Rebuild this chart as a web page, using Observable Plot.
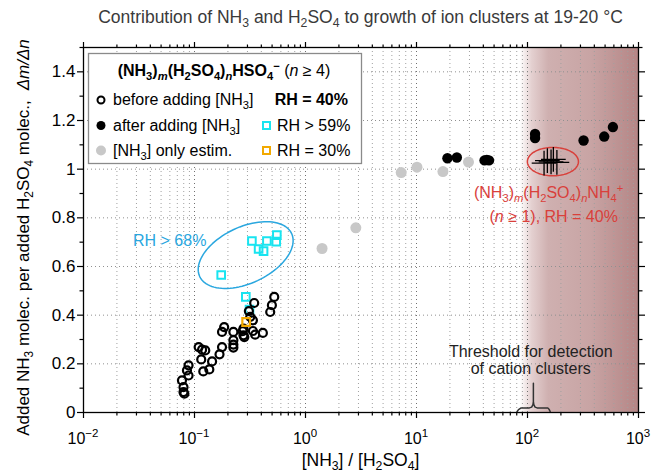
<!DOCTYPE html>
<html>
<head>
<meta charset="utf-8">
<script src="https://cdn.jsdelivr.net/npm/d3@7"></script>
<script src="https://cdn.jsdelivr.net/npm/@observablehq/plot@0.6"></script>
<style>
  html,body{margin:0;padding:0;background:#fff;}
  #chart svg{display:block;font-family:"Liberation Sans",Arial,Helvetica,sans-serif;}
  #chart text{white-space:pre;}
</style>
</head>
<body>
<div id="chart"></div>
<script>
// ---------------- data ----------------
// before adding NH3 (open black circles), RH = 40%
const beforeX = [0.523,0.498,0.481,0.345,0.309,0.336,0.318,0.276,0.276,0.336,0.352,0.413,
                 0.224,0.224,0.224,0.224,0.185,0.177,0.177,0.168,0.144,0.136,0.120,0.115,
                 0.109,0.117,0.125,0.0884,0.0855,0.0884,0.0771,0.0796,0.0796,0.0811,0.281,0.272];
const beforeY = [0.475,0.441,0.413,0.450,0.417,0.379,0.393,0.345,0.317,0.335,0.320,0.327,
                 0.331,0.297,0.279,0.267,0.351,0.331,0.269,0.239,0.210,0.177,0.169,0.218,
                 0.269,0.258,0.255,0.194,0.173,0.152,0.132,0.104,0.084,0.077,0.310,0.334];
// after adding NH3 (filled black)
const afterX = [19.0,23.1,41,43,45,117,117,320,491,588];
const afterY = [1.045,1.048,1.036,1.038,1.036,1.145,1.128,1.118,1.134,1.173];
// NH3 only estimated (grey)
const estimX = [1.41,2.84,7.28,10.1,17.3,29.4];
const estimY = [0.674,0.759,0.986,1.008,0.990,1.029];
// RH > 59% (cyan squares)
const rh59X = [0.174,0.329,0.378,0.419,0.449,0.552,0.545,0.290,0.313];
const rh59Y = [0.565,0.705,0.672,0.663,0.705,0.729,0.702,0.475,0.423];
// RH = 30% (orange square)
const rh30X = [0.292];
const rh30Y = [0.372];
// cation clusters (NH3)m(H2SO4)nNH4+ (plus marks)
const cationX = [141,151,163,171,184];
const cationY = [1.025,1.035,1.030,1.040,1.028];

// ticks
const xMajor = [0.01,0.1,1,10,100,1000];
const xExponents = ["\u22122","\u22121","0","1","2","3"];
const xMinorMult = [2,3,4,5,6,7,8,9];
const yMajor = [0,0.2,0.4,0.6,0.8,1,1.2,1.4];
const yLabels = ["0","0.2","0.4","0.6","0.8","1","1.2","1.4"];
const yMinor = [0.1,0.3,0.5,0.7,0.9,1.1,1.3,1.5];

// shaded region (cation detection)
const shadeFrom = 86, shadeTo = 1000;

// annotation shapes in data units (log10 x, y)
const cyanEllipse = {cx:-0.539, cy:0.647, ux:0.414, uy:0.0883, vx:-0.107, vy:0.105};
const redEllipse  = {cx:2.229,  cy:1.031, ux:0.23,  uy:0,      vx:0,      vy:0.0585};
const braceX = [80.7,83,87,104,109,112,113,113,113,114,117,122,153,157,160];
const braceY = [0.004,0.012,0.018,0.019,0.022,0.032,0.045,0.12,0.045,0.032,0.022,0.019,0.018,0.012,0.004];

// annotation text anchors (data units)
const redLabel1 = [156.6, 0.880], redLabel2 = [174, 0.782];
const cyanLabel = [0.0604, 0.683];
const threshLabel1 = [108, 0.225], threshLabel2 = [108, 0.155];

// ---------------- build ----------------
const xMinor = [];
xMajor.slice(0,-1).forEach(d => xMinorMult.forEach(m => xMinor.push(+(d*m).toPrecision(3))));
const pts = (X, Y) => X.map((x, i) => ({x, y: Y[i]}));
function ellipse(e) {
  return d3.range(0, 97).map(i => {
    const t = i / 96 * 2 * Math.PI;
    return {x: Math.pow(10, e.cx + e.ux*Math.cos(t) + e.vx*Math.sin(t)),
            y: e.cy + e.uy*Math.cos(t) + e.vy*Math.sin(t)};
  });
}
const noText = () => "";

const plot = Plot.plot({
  width: 653, height: 474,
  marginLeft: 83, marginRight: 15, marginTop: 47, marginBottom: 62,
  style: {fontFamily: '"Liberation Sans", Arial, sans-serif', fontSize: "16px", color: "#000", background: "#fff"},
  x: {type: "log", domain: [0.01, 1000]},
  y: {domain: [0, 1.5]},
  marks: [
    Plot.rect([0], {x1: () => shadeFrom, x2: () => shadeTo, y1: () => 0, y2: () => 1.5, fill: "url(#shadeGrad)"}),
    Plot.ruleX(xMinor, {stroke: "#a0a0a0", strokeDasharray: "1,3"}),
    Plot.ruleX(xMajor.slice(1, -1), {stroke: "#707070", strokeDasharray: "1,3"}),
    Plot.ruleY(yMajor.slice(1), {stroke: "#909090", strokeDasharray: "1,3"}),
    Plot.line(ellipse(cyanEllipse), {x: "x", y: "y", stroke: "#2aa7df", strokeWidth: 1.5}),
    Plot.line(ellipse(redEllipse), {x: "x", y: "y", stroke: "#d9403b", strokeWidth: 1.5}),
    Plot.dot(pts(estimX, estimY), {x: "x", y: "y", r: 5.5, fill: "#c8c8c8"}),
    Plot.dot(pts(rh59X, rh59Y), {x: "x", y: "y", symbol: "square", r: 4.3, stroke: "#18e4f0", strokeWidth: 2, fill: "none"}),
    Plot.dot(pts(beforeX, beforeY), {x: "x", y: "y", r: 4, stroke: "#000", strokeWidth: 2.2, fill: "none"}),
    Plot.dot(pts(rh30X, rh30Y), {x: "x", y: "y", symbol: "square", r: 4.3, stroke: "#f2a900", strokeWidth: 2.2, fill: "none"}),
    Plot.dot(pts(afterX, afterY), {x: "x", y: "y", r: 5.2, fill: "#000"}),
    Plot.dot(pts(cationX, cationY), {x: "x", y: "y", symbol: "plus", r: 8, stroke: "#000", strokeWidth: 1.3}),
    Plot.line(pts(braceX, braceY), {x: "x", y: "y", stroke: "#333", strokeWidth: 1.5}),
    Plot.frame({stroke: "#000", strokeWidth: 1.3}),
    Plot.axisX(xMajor, {anchor: "bottom", tickSize: 6, tickFormat: noText, label: null, strokeWidth: 1.2}),
    Plot.axisX(xMinor, {anchor: "bottom", tickSize: 3.5, tickFormat: noText, label: null, strokeWidth: 1.2}),
    Plot.axisX(xMajor, {anchor: "top", tickSize: 6, tickFormat: noText, label: null, strokeWidth: 1.2}),
    Plot.axisX(xMinor, {anchor: "top", tickSize: 3.5, tickFormat: noText, label: null, strokeWidth: 1.2}),
    Plot.axisY(yMajor, {anchor: "left", tickSize: 6, tickPadding: 2, tickFormat: d => yLabels[yMajor.indexOf(d)], label: null, fontSize: 17, strokeWidth: 1.2}),
    Plot.axisY(yMinor, {anchor: "left", tickSize: 3.5, tickFormat: noText, label: null, strokeWidth: 1.2}),
    Plot.axisY(yMajor, {anchor: "right", tickSize: 6, tickFormat: noText, label: null, strokeWidth: 1.2}),
    Plot.axisY(yMinor, {anchor: "right", tickSize: 3.5, tickFormat: noText, label: null, strokeWidth: 1.2})
  ]
});

document.getElementById("chart").appendChild(plot);
const svg = d3.select(plot);
const xs = plot.scale("x"), ys = plot.scale("y");

// gradient for the shaded region
const grad = svg.insert("defs", ":first-child").append("linearGradient")
  .attr("id", "shadeGrad").attr("x1", 0).attr("x2", 1).attr("y1", 0).attr("y2", 0);
[[0, "#ffffff"], [0.1, "#e4d0d0"], [0.24, "#cfb0b0"], [0.6, "#c8a4a4"], [1, "#b58686"]]
  .forEach(([o, c]) => grad.append("stop").attr("offset", o).attr("stop-color", c));

// rich text helper (sub/superscripts, italics, bold)
function rich(parent, x, y, segs, o = {}) {
  const size = o.size || 16;
  const t = parent.append("text").attr("x", x).attr("y", y)
    .attr("text-anchor", o.anchor || "start").attr("font-size", size)
    .attr("fill", o.fill || "#000");
  if (o.weight) t.attr("font-weight", o.weight);
  if (o.transform) t.attr("transform", o.transform);
  let cur = 0;
  segs.forEach(s => {
    const seg = typeof s === "string" ? {t: s} : s;
    const shift = seg.sub ? size * 0.25 : seg.sup ? -size * 0.38 : 0;
    const ts = t.append("tspan").text(seg.t);
    if (shift !== cur) ts.attr("dy", shift - cur);
    cur = shift;
    if (seg.sub || seg.sup) ts.attr("font-size", size * 0.7);
    if (seg.i) ts.attr("font-style", "italic");
    if (seg.b !== undefined) ts.attr("font-weight", seg.b ? "bold" : "normal");
    if (seg.dx) ts.attr("dx", seg.dx);
  });
  return t;
}
const sub = (t, i) => ({t, sub: true, i});
const sup = t => ({t, sup: true});

const x0 = xs.apply(0.01), x1 = xs.apply(1000), yb = ys.apply(0), yt = ys.apply(1.5);
const midX = (x0 + x1) / 2;

// x tick labels 10^k
xMajor.forEach((v, i) => {
  const t = svg.append("text").attr("x", xs.apply(v)).attr("y", yb + 32)
    .attr("text-anchor", "middle").attr("font-size", 16).attr("fill", "#000");
  t.append("tspan").text("10");
  t.append("tspan").text(xExponents[i]).attr("dy", -7).attr("font-size", 11.5);
});

// title
rich(svg, midX, 23, ["Contribution of NH", sub("3"), " and H", sub("2"), "SO", sub("4"),
  " to growth of ion clusters at 19-20 \u00B0C"], {anchor: "middle", fill: "#3a3a3a", size: 17.5});
// x label
rich(svg, midX, 466, ["[NH", sub("3"), "] / [H", sub("2"), "SO", sub("4"), "]"], {anchor: "middle", size: 17.5});
// y label
rich(svg, 0, 0, ["Added NH", sub("3"), " molec. per added H", sub("2"), "SO", sub("4"), " molec.,",
  {t: "\u0394m/\u0394n", i: true, dx: 10}], {anchor: "middle", size: 17, transform: `translate(29,${(yb + yt) / 2 + 8}) rotate(-90)`});

// annotations
rich(svg, xs.apply(redLabel1[0]), ys.apply(redLabel1[1]),
  ["(NH", sub("3"), ")", sub("m", true), "(H", sub("2"), "SO", sub("4"), ")", sub("n", true), "NH", sub("4"), sup("+")],
  {anchor: "middle", fill: "#d9403b"});
rich(svg, xs.apply(redLabel2[0]), ys.apply(redLabel2[1]),
  ["(", {t: "n", i: true}, " \u2265 1), RH = 40%"], {anchor: "middle", fill: "#d9403b"});
rich(svg, xs.apply(cyanLabel[0]), ys.apply(cyanLabel[1]), ["RH > 68%"], {anchor: "middle", fill: "#2aa7df"});
rich(svg, xs.apply(threshLabel1[0]), ys.apply(threshLabel1[1]), ["Threshold for detection"], {anchor: "middle", fill: "#222"});
rich(svg, xs.apply(threshLabel2[0]), ys.apply(threshLabel2[1]), ["of cation clusters"], {anchor: "middle", fill: "#222"});

// legend
const lg = svg.append("g");
lg.append("rect").attr("x", 88.5).attr("y", 53.5).attr("width", 273).attr("height", 110)
  .attr("fill", "#fff").attr("stroke", "#8a8a8a").attr("stroke-width", 1.3);
rich(lg, 224, 76, [{t: "(NH", b: true}, {t: "3", sub: true, b: true}, {t: ")", b: true}, {t: "m", sub: true, i: true, b: true},
  {t: "(H", b: true}, {t: "2", sub: true, b: true}, {t: "SO", b: true}, {t: "4", sub: true, b: true}, {t: ")", b: true},
  {t: "n", sub: true, i: true, b: true}, {t: "HSO", b: true}, {t: "4", sub: true, b: true}, {t: "\u2212", sup: true, b: true},
  {t: " (", b: false}, {t: "n", i: true, b: false}, {t: " \u2265 4)", b: false}], {anchor: "middle"});
const rows = [105, 130.5, 155.5];
lg.append("circle").attr("cx", 101).attr("cy", rows[0] - 5).attr("r", 3.5).attr("fill", "none").attr("stroke", "#000").attr("stroke-width", 2);
lg.append("circle").attr("cx", 101).attr("cy", rows[1] - 5).attr("r", 4.5).attr("fill", "#000");
lg.append("circle").attr("cx", 101).attr("cy", rows[2] - 5).attr("r", 5).attr("fill", "#c8c8c8");
rich(lg, 113, rows[0], ["before adding [NH", sub("3"), "]"]);
rich(lg, 113, rows[1], ["after adding [NH", sub("3"), "]"]);
rich(lg, 113, rows[2], ["[NH", sub("3"), "] only estim."]);
rich(lg, 348, rows[0], ["RH = 40%"], {anchor: "end", weight: "bold"});
lg.append("rect").attr("x", 263).attr("y", rows[1] - 8.5).attr("width", 7).attr("height", 7).attr("fill", "none").attr("stroke", "#18e4f0").attr("stroke-width", 2);
lg.append("rect").attr("x", 263).attr("y", rows[2] - 8.5).attr("width", 7).attr("height", 7).attr("fill", "none").attr("stroke", "#f2a900").attr("stroke-width", 2);
rich(lg, 277, rows[1], ["RH > 59%"]);
rich(lg, 277, rows[2], ["RH = 30%"]);
</script>
</body>
</html>
